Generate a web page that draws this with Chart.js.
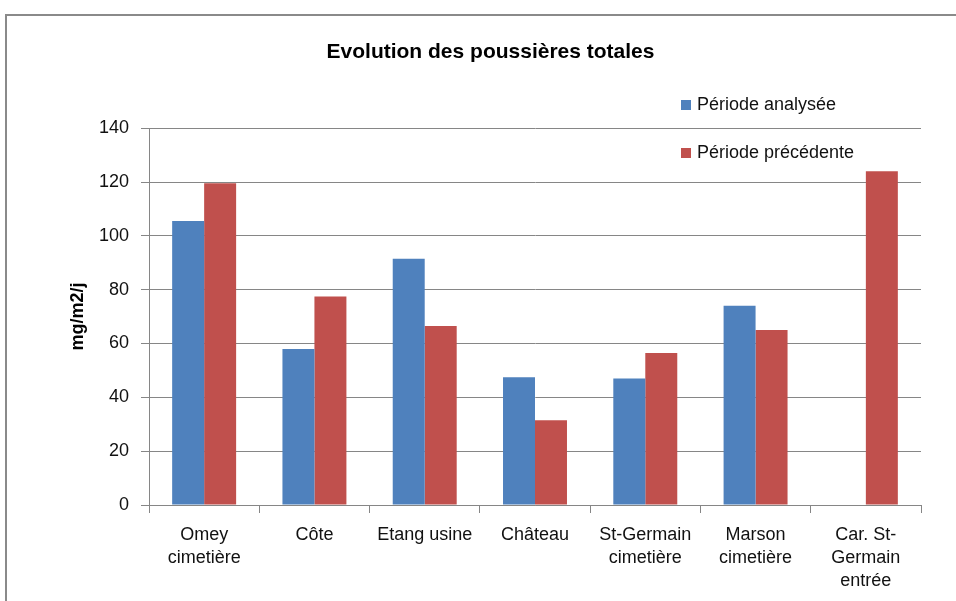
<!DOCTYPE html>
<html>
<head>
<meta charset="utf-8">
<script src="https://cdn.jsdelivr.net/npm/chart.js@4"></script>
<style>
  body { margin: 0; background: #fff; overflow: hidden; }
  #frame { position: absolute; left: 5px; top: 14px; width: 1000px; height: 700px; border: 2px solid #8a8a8a; }
  #wrap { position: absolute; left: 0; top: 0; width: 956px; height: 601px; }
</style>
</head>
<body>
<div id="frame"></div>
<div id="wrap"><canvas id="myChart" width="956" height="601"></canvas></div>
<script>
// data
const categories = [
    ["Omey", "cimetière"], "Côte", "Etang usine", "Château",
    ["St-Germain", "cimetière"], ["Marson", "cimetière"], ["Car. St-", "Germain", "entrée"]
];
const periodeAnalysee = [105.5, 58, 91.5, 47.5, 47, 74, null];
const periodePrecedente = [119.5, 77.5, 66.5, 31.5, 56.5, 65, 124];
const yTicks = [0, 20, 40, 60, 80, 100, 120, 140];

const gridColor = '#868686';
Chart.defaults.font.family = "'Liberation Sans', Arial, sans-serif";
Chart.defaults.color = '#111';

// legend drawn inside the plot, top right
const insideLegend = {
    id: 'insideLegend',
    afterDraw(chart) {
        const c = chart.ctx;
        c.save();
        c.font = "18px 'Liberation Sans', Arial, sans-serif";
        c.textBaseline = 'middle';
        chart.data.datasets.forEach((ds, i) => {
            const y = 105 + i * 48;
            c.fillStyle = ds.backgroundColor;
            c.fillRect(681, y - 5, 10, 10);
            c.fillStyle = '#111';
            c.fillText(ds.label, 697, y);
        });
        c.restore();
    }
};

const ctx = document.getElementById('myChart').getContext('2d');
new Chart(ctx, {
    type: 'bar',
    data: {
        labels: categories,
        datasets: [{
            label: "Période analysée",
            backgroundColor: '#4F81BD',
            data: periodeAnalysee
        }, {
            label: "Période précédente",
            backgroundColor: '#C0504D',
            data: periodePrecedente
        }]
    },
    options: {
        responsive: false,
        animation: false,
        layout: { padding: { left: 60, right: 35, top: 0, bottom: 0 } },
        datasets: { bar: { categoryPercentage: 0.58, barPercentage: 1 } },
        plugins: {
            legend: { display: false },
            tooltip: { enabled: false },
            title: {
                display: true,
                text: 'Evolution des poussières totales',
                color: '#000',
                font: { size: 21, weight: 'bold' },
                padding: { top: 40, bottom: 63 }
            }
        },
        scales: {
            x: {
                grid: { offset: true, drawOnChartArea: false, drawTicks: true, tickLength: 8, color: gridColor },
                border: { color: gridColor },
                ticks: { autoSkip: false, maxRotation: 0, padding: 10, font: { size: 18, lineHeight: 1.3 } },
                afterFit: (s) => { s.height = 96; }
            },
            y: {
                min: 0,
                max: 140,
                afterBuildTicks: (s) => { s.ticks = yTicks.map(v => ({ value: v })); },
                grid: { color: gridColor, tickLength: 8 },
                border: { color: gridColor },
                ticks: { padding: 12, font: { size: 18 } },
                title: {
                    display: true,
                    text: 'mg/m2/j',
                    color: '#000',
                    font: { size: 18, weight: 'bold' },
                    padding: { top: 7, bottom: 0 }
                },
                afterFit: (s) => { s.width = 89; }
            }
        }
    },
    plugins: [insideLegend]
});
</script>
</body>
</html>
